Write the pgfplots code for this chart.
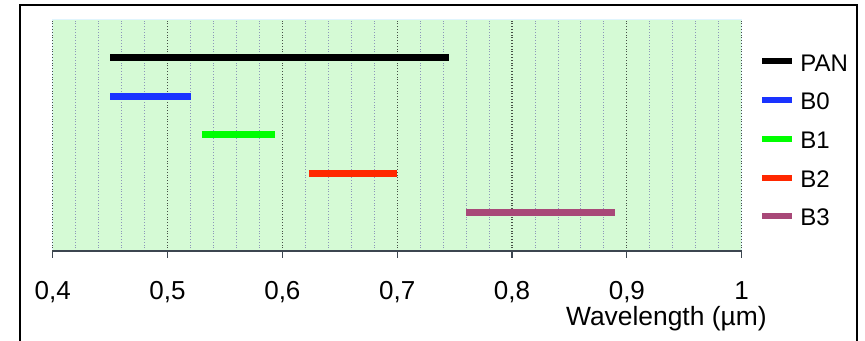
\documentclass[border=0pt]{standalone}
\usepackage{fontspec}
\setmainfont{Liberation Sans}
\usepackage{pgfplots}
\pgfplotsset{compat=1.18}
\definecolor{bggreen}{RGB}{213,250,213}
\definecolor{axcol}{RGB}{60,70,80}
\definecolor{cPAN}{RGB}{0,0,0}
\definecolor{cB0}{RGB}{26,51,255}
\definecolor{cB1}{RGB}{0,255,0}
\definecolor{cB2}{RGB}{255,40,0}
\definecolor{cB3}{RGB}{168,72,120}
\definecolor{majgrid}{RGB}{70,80,70}
\definecolor{mingrid}{RGB}{140,150,185}
\begin{document}
\begin{tikzpicture}
\useasboundingbox (0pt,0pt) rectangle (432.5pt,170.5pt);
\draw[line width=1.3pt] (10pt,-5pt) rectangle (428.5pt,168pt);
\begin{axis}[
  at={(26.35pt,45pt)}, anchor=south west,
  scale only axis, width=344.5pt, height=116pt,
  xmin=0.4, xmax=1.0, ymin=0, ymax=6,
  axis x line*=bottom, axis y line=none,
  axis line style={axcol, line width=0.6pt},
  xtick={0.4,0.5,0.6,0.7,0.8,0.9,1},
  minor x tick num=4,
  xmajorgrids, xminorgrids,
  major grid style={densely dotted, majgrid, line width=0.55pt},
  minor grid style={densely dotted, mingrid, line width=0.45pt},
  tick align=outside,
  major tick length=3.5pt, minor tick length=0pt,
  tick style={axcol, line width=0.6pt},
  /pgf/number format/assume math mode=true,
  /pgf/number format/use comma,
  /pgf/number format/fixed,
  /pgf/number format/precision=1,
  xticklabel style={font=\fontsize{13}{15}\selectfont, anchor=base, yshift=-21pt},
  xlabel={Wavelength (µm)},
  xlabel style={at={(axis description cs:1,0)}, anchor=base east, xshift=16pt, yshift=-37.5pt, font=\fontsize{13.2}{15}\selectfont},
  axis background/.style={fill=bggreen, draw=cyan!12},
  legend style={at={(1.025,0.855)}, anchor=north west, draw=none, fill=none,
    font=\fontsize{12}{14}\selectfont, row sep=10.35pt, inner sep=0pt,
    nodes={inner sep=0pt, text height=9pt, text depth=0pt, anchor=base west},
    /tikz/every odd column/.append style={column sep=2.5pt}},
  legend image code/.code={\draw[#1, line width=3pt] (0pt,4.8pt) -- (15pt,4.8pt);},
  clip=false,
]
\addplot[cPAN, line width=3.5pt] coordinates {(0.45,5) (0.745,5)};
\addlegendentry{PAN}
\addplot[cB0, line width=3.5pt] coordinates {(0.45,4) (0.52,4)};
\addlegendentry{B0}
\addplot[cB1, line width=3.5pt] coordinates {(0.53,3) (0.594,3)};
\addlegendentry{B1}
\addplot[cB2, line width=3.5pt] coordinates {(0.623,2) (0.70,2)};
\addlegendentry{B2}
\addplot[cB3, line width=3.5pt] coordinates {(0.76,1) (0.89,1)};
\addlegendentry{B3}
\end{axis}
\end{tikzpicture}
\end{document}
